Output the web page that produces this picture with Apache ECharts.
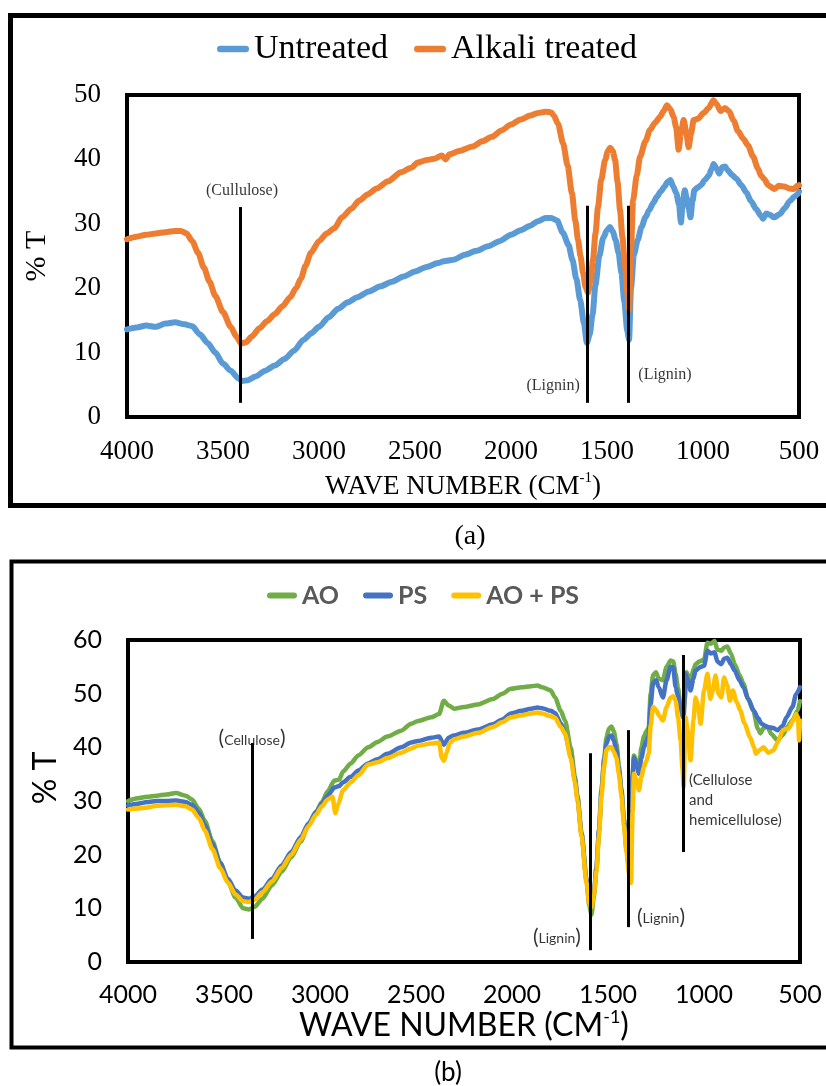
<!DOCTYPE html>
<html>
<head>
<meta charset="utf-8">
<script src="https://cdn.jsdelivr.net/npm/echarts@6/dist/echarts.min.js"></script>
<style>
  html, body { margin: 0; padding: 0; background: #fff; }
  #chart { width: 826px; height: 1086px; }
</style>
</head>
<body>
<div id="chart"></div>
<script>
// ---------- Panel (a) ----------
const untreatedWN = [4000,3950,3900,3850,3800,3750,3700,3660,3620,3580,3540,3500,3460,3420,3400,3370,3330,3280,3230,3180,3130,3080,3040,3000,2950,2900,2850,2800,2740,2680,2620,2560,2500,2440,2380,2350,2300,2240,2180,2120,2060,2000,1950,1900,1860,1820,1790,1760,1730,1700,1680,1660,1640,1620,1605,1590,1575,1560,1540,1520,1500,1485,1470,1455,1440,1425,1410,1395,1385,1375,1360,1340,1320,1300,1280,1260,1240,1220,1200,1185,1170,1155,1140,1125,1115,1105,1095,1085,1075,1065,1055,1045,1030,1010,990,970,955,945,930,915,900,885,870,850,826,800,775,750,723,700,688,670,652,630,600,575,548,525,506,500];
const untreatedT = [13.6,13.9,14.2,14.0,14.5,14.7,14.4,14.1,12.8,11.5,10.0,8.3,7.2,6.0,5.6,5.7,6.3,7.2,8.0,9.0,10.3,12.0,13.0,14.0,15.5,16.8,17.8,18.6,19.5,20.3,21.0,21.8,22.6,23.3,23.9,24.2,24.4,25.2,25.8,26.5,27.3,28.3,29.0,29.7,30.4,30.9,30.9,30.5,28.6,26.7,24.4,21.5,18.2,14.5,11.5,12.8,16.0,20.5,25.0,27.8,29.0,29.5,28.8,27.5,25.5,22.4,18.0,13.5,12.0,20.0,25.2,27.5,29.5,31.0,32.1,33.2,34.2,35.0,35.8,36.5,36.8,35.8,34.8,33.0,30.2,33.5,35.2,34.0,32.5,31.0,33.5,35.2,35.6,36.0,36.8,37.5,38.5,39.3,38.6,37.8,38.8,38.9,38.3,37.6,37.0,36.0,34.9,33.5,32.3,31.3,30.8,31.6,31.4,31.0,31.5,32.4,33.5,34.2,34.6,35.0];

const alkaliWN = [4000,3950,3900,3850,3800,3750,3720,3690,3660,3630,3600,3570,3540,3500,3460,3430,3406,3380,3350,3310,3270,3230,3190,3150,3120,3094,3070,3042,3000,2960,2920,2880,2833,2790,2745,2700,2640,2573,2520,2485,2440,2400,2360,2340,2320,2270,2200,2150,2100,2050,2000,1950,1900,1860,1820,1790,1777,1755,1729,1705,1683,1665,1651,1638,1625,1612,1599,1586,1573,1560,1547,1530,1510,1495,1484,1470,1458,1445,1432,1420,1406,1395,1385,1375,1364,1345,1328,1300,1276,1250,1224,1205,1188,1170,1153,1140,1127,1115,1101,1088,1075,1062,1049,1027,997,970,946,930,908,886,865,840,818,790,766,740,714,698,683,660,630,604,578,552,526,510,500];
const alkaliT = [27.6,28.0,28.3,28.5,28.7,28.9,28.9,28.5,27.3,25.5,23.2,21.0,18.8,16.3,14.0,12.5,11.4,11.6,12.5,13.8,14.9,16.0,17.2,18.6,20.0,21.5,23.5,25.5,27.3,28.5,29.3,31.0,32.3,33.6,34.6,35.5,36.6,38.0,38.7,39.5,39.9,40.1,40.6,40.0,40.8,41.3,42.0,42.8,43.5,44.5,45.4,46.2,46.8,47.2,47.4,47.3,46.8,45.5,42.5,39.0,34.8,30.5,27.5,25.0,22.4,20.2,19.3,21.0,24.4,28.5,32.6,36.8,39.9,41.3,41.8,41.3,39.9,36.5,32.1,28.0,23.3,19.5,16.6,26.0,33.7,37.5,40.4,42.8,44.6,45.7,46.6,47.5,48.4,47.8,46.6,45.0,41.5,44.0,46.1,44.5,41.9,44.0,46.1,46.3,47.2,48.0,49.2,48.6,47.5,48.0,47.5,46.0,44.4,43.2,42.2,40.5,38.6,37.5,37.0,36.0,35.4,35.9,35.8,35.5,35.4,35.9,36.0];

// band markers (a): wavenumber, bottom %T, top %T
const markersA = [[3411, 2.2, 32.6], [1604, 2.2, 32.8], [1391, 2.2, 32.8]];
// band labels (a): wavenumber, %T, text
const labelsA = [[3401, 35.2, '(Cullulose)'], [1781, 4.8, '(Lignin)'], [1198, 6.5, '(Lignin)']];

// ---------- Panel (b) ----------
const aoWN = [4000,3950,3900,3850,3800,3750,3700,3667,3630,3600,3560,3520,3480,3440,3400,3370,3340,3300,3250,3200,3150,3100,3060,3020,2990,2960,2925,2900,2880,2840,2800,2749,2700,2650,2577,2525,2490,2421,2380,2355,2330,2302,2250,2178,2100,2050,2006,1950,1900,1868,1843,1798,1776,1746,1724,1694,1672,1659,1638,1612,1598,1586,1573,1560,1547,1534,1520,1508,1495,1482,1470,1456,1443,1430,1417,1404,1391,1380,1372,1365,1352,1339,1326,1313,1300,1288,1278,1265,1250,1236,1214,1195,1174,1160,1148,1135,1122,1110,1100,1090,1070,1055,1044,1025,1000,982,965,945,930,910,895,879,860,840,815,795,770,743,720,706,690,669,650,617,590,565,540,513,500];
const aoT = [30.0,30.5,30.8,31.0,31.2,31.5,31.0,30.3,28.5,26.3,22.5,18.5,15.0,12.0,10.0,9.8,10.3,11.8,14.3,16.8,19.5,22.5,25.5,28.0,29.8,31.8,33.8,34.0,35.5,37.0,38.5,40.0,41.0,42.0,43.1,44.4,44.9,45.6,46.2,48.7,47.8,47.2,47.5,48.0,49.0,50.0,50.9,51.2,51.4,51.5,51.2,50.6,49.3,46.8,45.0,40.0,34.5,31.0,24.0,15.3,10.5,8.8,12.5,17.7,24.5,32.0,38.0,41.9,43.5,43.9,43.0,40.7,36.5,32.0,26.5,21.4,17.7,25.0,34.0,38.5,37.5,36.0,40.0,42.0,43.0,43.7,50.0,53.5,54.0,52.8,52.5,55.0,56.2,56.0,53.7,51.0,47.5,45.5,49.0,54.0,52.0,54.5,55.5,56.0,56.3,59.5,59.3,59.8,58.2,58.0,58.6,58.8,57.5,55.5,53.5,51.9,49.0,46.8,43.5,42.6,43.6,43.8,42.5,41.3,42.3,43.8,45.0,46.8,48.6];

const psWN = [4000,3950,3900,3850,3800,3750,3700,3667,3630,3600,3560,3520,3480,3440,3400,3370,3340,3300,3250,3200,3150,3100,3060,3020,2990,2960,2925,2900,2880,2840,2800,2749,2700,2650,2577,2525,2490,2421,2380,2355,2330,2302,2250,2178,2100,2050,2006,1950,1900,1868,1843,1798,1776,1746,1724,1694,1672,1659,1638,1612,1598,1586,1573,1560,1547,1534,1520,1508,1495,1482,1470,1456,1443,1430,1417,1404,1391,1380,1372,1365,1352,1339,1326,1313,1300,1288,1278,1265,1250,1236,1214,1195,1174,1160,1148,1135,1122,1106,1096,1085,1070,1055,1044,1018,1000,982,965,945,930,910,895,879,860,840,815,795,770,740,720,700,680,669,640,617,590,570,540,520,500];
const psT = [29.2,29.5,29.8,30.0,30.0,30.1,29.8,29.3,27.8,25.5,22.0,18.5,15.5,13.3,12.0,11.8,12.2,13.5,15.5,18.0,20.5,23.3,25.8,28.0,29.5,31.0,32.5,32.8,33.5,34.5,35.7,37.0,37.8,38.8,40.0,40.9,41.2,41.8,42.0,40.5,41.8,42.2,42.7,43.3,44.3,45.2,46.3,46.8,47.2,47.4,47.3,46.8,46.4,44.5,42.6,38.5,33.9,30.5,24.0,15.5,11.5,10.2,13.0,17.7,24.5,32.0,37.5,40.7,42.0,42.2,41.3,39.5,35.8,32.0,26.5,21.4,17.7,27.0,35.0,38.1,37.0,35.1,38.0,40.0,41.2,42.2,48.0,52.0,52.5,51.2,49.3,52.5,55.0,54.9,51.2,49.5,47.5,45.6,53.7,52.5,50.6,52.8,54.3,55.0,55.2,58.0,57.5,57.7,56.0,55.5,56.5,56.7,55.5,54.3,52.5,51.2,49.0,46.8,45.5,44.4,44.0,43.8,43.6,43.2,44.0,45.6,47.5,49.9,51.2];

const aopsWN = [4000,3950,3900,3850,3800,3750,3700,3667,3630,3600,3560,3520,3480,3440,3400,3370,3340,3300,3250,3200,3150,3100,3060,3020,2990,2960,2935,2920,2905,2880,2840,2800,2749,2700,2650,2577,2525,2490,2421,2380,2365,2355,2340,2325,2302,2250,2178,2100,2050,2006,1950,1900,1868,1843,1798,1776,1746,1724,1694,1672,1659,1638,1612,1598,1586,1573,1560,1547,1534,1520,1508,1495,1482,1470,1456,1443,1430,1417,1404,1391,1380,1372,1365,1352,1339,1326,1313,1300,1288,1278,1265,1250,1236,1214,1195,1174,1160,1148,1135,1122,1112,1106,1096,1085,1070,1055,1044,1030,1018,1000,982,967,955,940,925,910,895,879,865,850,830,810,790,760,740,730,710,690,665,640,615,590,560,535,520,510,505,500];
const aopsT = [28.4,28.6,28.8,29.1,29.2,29.3,29.0,28.4,26.8,24.5,21.0,17.5,14.8,12.6,11.3,11.2,11.6,13.0,15.0,17.5,20.0,22.8,25.3,27.5,29.0,30.3,30.8,27.7,29.5,32.0,33.5,34.8,36.8,37.2,38.0,39.0,39.8,40.3,40.7,40.9,38.0,37.5,39.0,40.8,41.5,42.0,42.7,43.8,44.7,45.6,46.0,46.3,46.5,46.3,45.8,45.5,43.8,42.6,38.0,33.5,30.0,23.5,14.8,11.0,10.2,12.5,17.0,23.5,31.0,36.5,39.5,40.0,40.0,39.2,38.0,35.0,31.0,25.5,20.5,16.5,14.7,28.0,35.1,34.0,32.0,34.5,36.3,37.5,38.9,44.0,47.5,47.0,46.0,45.0,47.5,49.3,49.5,48.7,45.5,41.3,36.0,32.6,45.6,43.0,37.6,45.0,49.3,47.5,44.4,50.5,53.7,49.0,50.5,53.4,50.0,49.3,53.0,51.5,48.7,50.6,48.5,46.8,44.5,41.9,40.0,38.8,39.5,40.0,39.0,39.4,41.0,43.2,43.5,45.0,46.2,45.5,41.3,45.0];

const markersB = [[3354, 4.3, 40.8], [1594, 2.2, 38.9], [1396, 6.5, 43.2], [1109, 20.5, 57.2]];
const labelsB = [[3354, 41.7, 'Cellulose'], [1766, 4.7, 'Lignin'], [1224, 8.4, 'Lignin']];
const labelsB2 = [[1078, 30.2, '(Cellulose\nand\nhemicellulose)']];

const xTicks = [4000, 3500, 3000, 2500, 2000, 1500, 1000, 500];

// ---------- build ----------
const zip = (xs, ys) => xs.map((x, i) => [x, ys[i]]);
const SERIF = 'Liberation Serif';
const SANS = 'Lato';
const legendIcon = 'path://M3,0 H27 A3,3 0 0 1 27,6 H3 A3,3 0 0 1 3,0 Z';

function tickLabel(font, size, margin, filter) {
  return {
    fontFamily: font, fontSize: size, color: '#000', margin: margin,
    formatter: v => (filter && !filter.includes(v)) ? '' : '{f|' + v + '}',
    rich: { f: { fontFamily: font, fontSize: size, color: '#000' } }
  };
}
function xAxisFor(gi, font, size, nameSize, nameGap, margin) {
  return {
    type: 'value', gridIndex: gi, min: 500, max: 4000, interval: 500, inverse: true,
    axisLine: { show: true, onZero: false, lineStyle: { color: '#000', width: 4 } },
    axisTick: { show: false }, splitLine: { show: false },
    axisLabel: tickLabel(font, size, margin, xTicks),
    name: 'WAVE NUMBER (CM{s|-1})', nameLocation: 'middle', nameGap: nameGap,
    nameTextStyle: { fontFamily: font, fontSize: nameSize, color: '#000', lineHeight: nameSize + 4,
      rich: { s: { fontFamily: font, fontSize: Math.round(nameSize * 0.55), verticalAlign: 'top', lineHeight: Math.round(nameSize * 0.6), color: '#000' } } }
  };
}
function yAxisFor(gi, max, font, size, nameSize, nameGap, margin, namePad) {
  return {
    type: 'value', gridIndex: gi, min: 0, max: max, interval: 10,
    axisLine: { show: true, lineStyle: { color: '#000', width: 4 } },
    axisTick: { show: false }, splitLine: { show: false },
    axisLabel: tickLabel(font, size, margin, null),
    name: '% T', nameLocation: 'middle', nameGap: nameGap, nameRotate: 90,
    nameTextStyle: { fontFamily: font, fontSize: nameSize, color: '#000', padding: namePad }
  };
}
function lineSeries(name, data, color, width, gi) {
  return {
    type: 'line', name: name, xAxisIndex: gi, yAxisIndex: gi, data: data,
    showSymbol: false, smooth: 0.25, smoothMonotone: 'x', clip: true,
    lineStyle: { color: color, width: width, cap: 'round', join: 'round' },
    itemStyle: { color: color }, emphasis: { disabled: true }
  };
}
function markerSeries(gi, markers, labelData, labelOpt) {
  return {
    type: 'scatter', xAxisIndex: gi, yAxisIndex: gi, symbolSize: 0, silent: true, z: 5,
    data: labelData.map(l => ({ value: [l[0], l[1]], text: l[2] })),
    label: Object.assign({ show: true, position: 'inside' }, labelOpt),
    markLine: {
      silent: true, symbol: 'none', animation: false,
      lineStyle: { color: '#000', width: 3, type: 'solid' },
      label: { show: false },
      data: markers.map(m => [{ coord: [m[0], m[1]] }, { coord: [m[0], m[2]] }])
    }
  };
}

const option = {
  animation: false,
  backgroundColor: '#fff',
  grid: [
    { left: 127, top: 95, width: 672, height: 322, show: true, borderColor: '#000', borderWidth: 4 },
    { left: 128, top: 640, width: 672, height: 322, show: true, borderColor: '#000', borderWidth: 4 }
  ],
  xAxis: [ xAxisFor(0, SERIF, 27, 27, 54, 21), xAxisFor(1, SANS, 25, 32, 44, 20) ],
  yAxis: [ yAxisFor(0, 50, SERIF, 27, 30, 75, 26, 0), yAxisFor(1, 60, SANS, 25, 32, 63, 26, [0, 0, 0, 46]) ],
  legend: [
    { left: 217, top: 32, padding: 0, itemWidth: 32, itemHeight: 7, itemGap: 26, icon: legendIcon,
      data: ['Untreated', 'Alkali treated'],
      textStyle: { fontFamily: SERIF, fontSize: 34, color: '#000' } },
    { left: 267, top: 583, padding: 0, itemWidth: 30, itemHeight: 6, itemGap: 24, icon: legendIcon,
      data: ['AO', 'PS', 'AO + PS'],
      textStyle: { fontFamily: SANS, fontSize: 25, fontWeight: 'bold', color: '#595959' } }
  ],
  series: [
    lineSeries('Untreated', zip(untreatedWN, untreatedT), '#5B9BD5', 6, 0),
    lineSeries('Alkali treated', zip(alkaliWN, alkaliT), '#ED7D31', 6, 0),
    markerSeries(0, markersA, labelsA, {
      formatter: p => p.data.text, fontFamily: SERIF, fontSize: 16, color: '#000' }),
    lineSeries('AO', zip(aoWN, aoT), '#70AD47', 4.5, 1),
    lineSeries('PS', zip(psWN, psT), '#4472C4', 4.5, 1),
    lineSeries('AO + PS', zip(aopsWN, aopsT), '#FFC000', 4.5, 1),
    markerSeries(1, markersB, labelsB, {
      formatter: p => '{p|(}{t|' + p.data.text + '}{p|)}', fontFamily: SANS,
      rich: { p: { fontFamily: SANS, fontSize: 21, color: '#000' }, t: { fontFamily: SANS, fontSize: 14, color: '#000', padding: [4, 0, 0, 0] } } }),
    {
      type: 'scatter', xAxisIndex: 1, yAxisIndex: 1, symbolSize: 0, silent: true, z: 5,
      data: labelsB2.map(l => ({ value: [l[0], l[1]], text: l[2] })),
      label: { show: true, position: 'right', distance: 0, formatter: p => p.data.text,
        fontFamily: SANS, fontSize: 15, lineHeight: 20, color: '#000', align: 'left' }
    }
  ],
  graphic: [
    { type: 'rect', shape: { x: 10.5, y: 15.5, width: 830, height: 490 }, style: { fill: 'none', stroke: '#000', lineWidth: 5 }, silent: true },
    { type: 'rect', shape: { x: 11.5, y: 561.5, width: 830, height: 486 }, style: { fill: 'none', stroke: '#000', lineWidth: 4 }, silent: true },
    { type: 'text', x: 470, y: 537, style: { text: '(a)', font: '28px "Liberation Serif"', fill: '#000', align: 'center', verticalAlign: 'middle' }, silent: true },
    { type: 'text', x: 448, y: 1073, style: { text: '(b)', font: '26px Lato', fill: '#000', align: 'center', verticalAlign: 'middle' }, silent: true }
  ]
};

const chart = echarts.init(document.getElementById('chart'), null, { renderer: 'canvas' });
chart.setOption(option);
</script>
</body>
</html>
